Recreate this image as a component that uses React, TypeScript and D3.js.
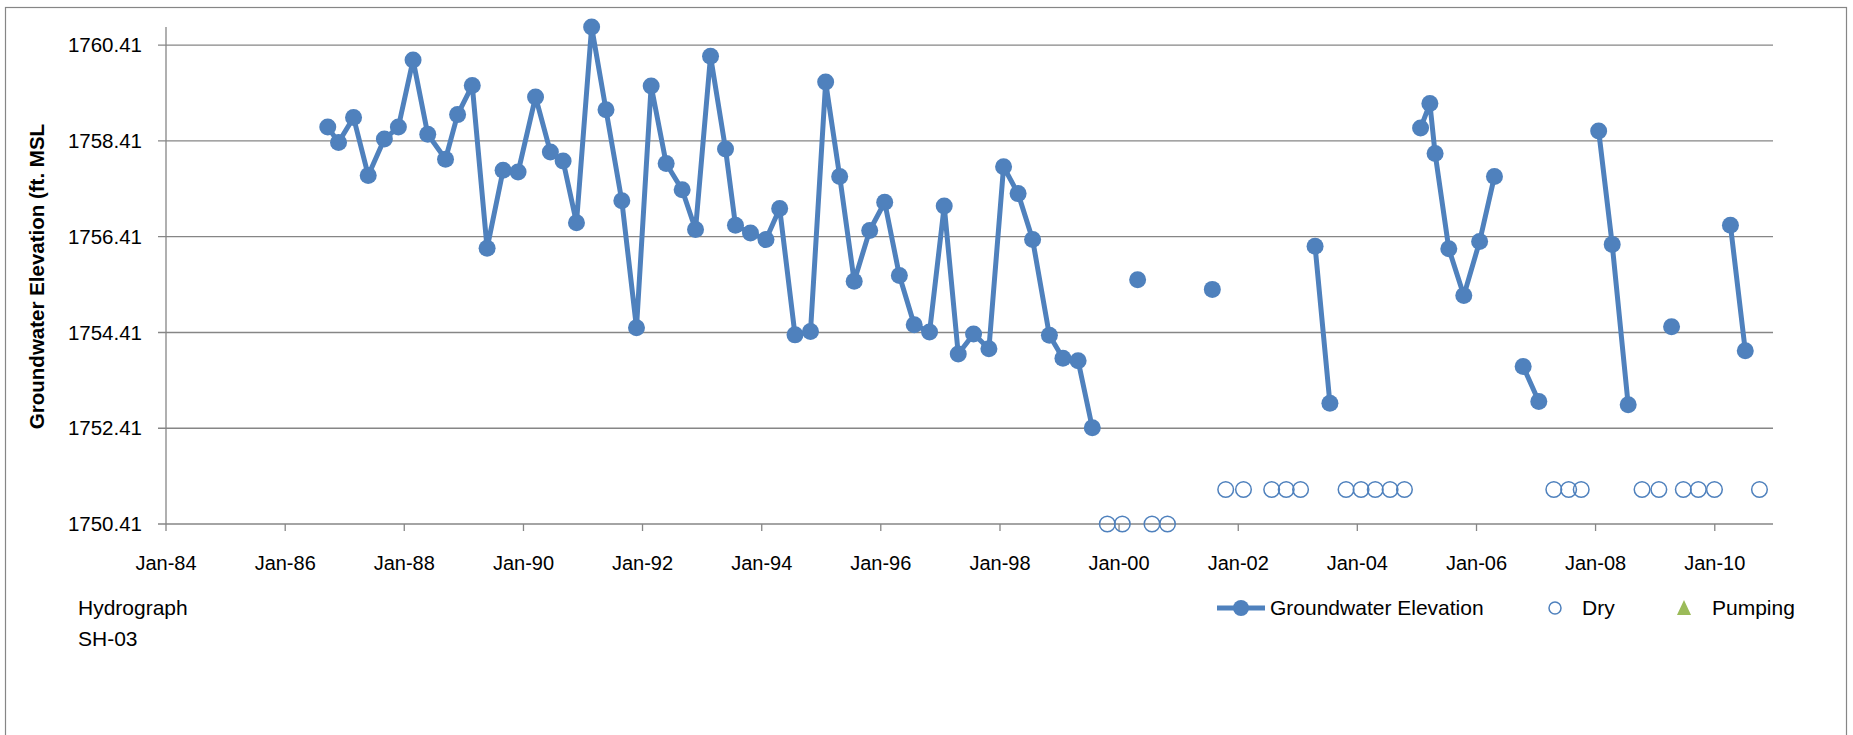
import * as d3 from 'd3';

const W = 1853;
const H = 735;

// groundwater readings, null = no reading (line break)
const gwDates = [
  '1986-09-19', '1986-11-24', '1987-02-24', '1987-05-25', '1987-09-01', '1987-11-26',
  '1988-02-24', '1988-05-24', '1988-09-10', '1988-11-23', '1989-02-21', '1989-05-23',
  '1989-08-29', '1989-11-29', '1990-03-16', '1990-06-15', '1990-09-01', '1990-11-22',
  '1991-02-23', '1991-05-22', '1991-08-27', '1991-11-25', '1992-02-23', '1992-05-25',
  '1992-08-31', '1992-11-21', '1993-02-21', '1993-05-24', '1993-07-24', '1993-10-24',
  '1994-01-27', '1994-04-21', '1994-07-24', '1994-10-27', '1995-01-28', '1995-04-24',
  '1995-07-22', '1995-10-25', '1996-01-25', '1996-04-24', '1996-07-24', '1996-10-26',
  '1997-01-24', '1997-04-20', '1997-07-23', '1997-10-25', '1998-01-23', '1998-04-22',
  '1998-07-20', '1998-10-31', '1999-01-22', '1999-04-25', '1999-07-21',
  '1999-10-21',
  '2000-04-24',
  '2000-10-24',
  '2001-07-26',
  '2002-02-02',
  '2003-04-17', '2003-07-17',
  '2003-10-24',
  '2005-01-23', '2005-03-21', '2005-04-22', '2005-07-15', '2005-10-15', '2006-01-20', '2006-04-21',
  '2006-07-15',
  '2006-10-14', '2007-01-18',
  '2007-04-20',
  '2008-01-20', '2008-04-12', '2008-07-19',
  '2008-10-12',
  '2009-04-11',
  '2009-06-22',
  '2010-04-07', '2010-07-07',
];
const gwValues = [
  1758.70, 1758.38, 1758.90, 1757.69, 1758.45, 1758.70,
  1760.10, 1758.55, 1758.03, 1758.96, 1759.57, 1756.17,
  1757.80, 1757.76, 1759.33, 1758.18, 1757.99, 1756.70,
  1760.79, 1759.06, 1757.16, 1754.51, 1759.56, 1757.94,
  1757.39, 1756.56, 1760.18, 1758.24, 1756.65, 1756.49,
  1756.35, 1757.00, 1754.36, 1754.43, 1759.64, 1757.67,
  1755.48, 1756.54, 1757.13, 1755.60, 1754.57, 1754.42,
  1757.05, 1753.96, 1754.38, 1754.07, 1757.87, 1757.31,
  1756.35, 1754.35, 1753.87, 1753.82, 1752.42,
  null,
  1755.51,
  null,
  1755.31,
  null,
  1756.21, 1752.93,
  null,
  1758.68, 1759.19, 1758.15, 1756.16, 1755.18, 1756.31, 1757.67,
  null,
  1753.70, 1752.97,
  null,
  1758.62, 1756.25, 1752.90,
  null,
  1754.53,
  null,
  1756.65, 1754.03,
];

// dry well readings
const dryDates = [
  '1999-10-21', '2000-01-21', '2000-07-21', '2000-10-24',
  '2001-10-16', '2002-02-02', '2002-07-25', '2002-10-22', '2003-01-18',
  '2003-10-24', '2004-01-24', '2004-04-20', '2004-07-20', '2004-10-16',
  '2007-04-20', '2007-07-20', '2007-10-05',
  '2008-10-12', '2009-01-23', '2009-06-22', '2009-09-22', '2009-12-30',
  '2010-10-02',
];
const dryValues = [
  1750.41, 1750.41, 1750.41, 1750.41,
  1751.13, 1751.13, 1751.13, 1751.13, 1751.13,
  1751.13, 1751.13, 1751.13, 1751.13, 1751.13,
  1751.13, 1751.13, 1751.13,
  1751.13, 1751.13, 1751.13, 1751.13, 1751.13,
  1751.13,
];

const yTicks = [1750.41, 1752.41, 1754.41, 1756.41, 1758.41, 1760.41];

const BLUE = '#4F81BD';
const GREEN = '#9BBB59';
const GRID = '#868686';
const FONT = '"Liberation Sans", Arial, sans-serif';

export default function App() {
  const parse = d3.timeParse('%Y-%m-%d');
  const x = d3.scaleTime()
    .domain([new Date(1984, 0, 1), new Date(2010, 11, 24)])
    .range([166, 1773]);
  const y = d3.scaleLinear().domain([1750.41, 1760.79]).range([524, 27]);

  const gw = gwDates.map((d, i) => ({ date: parse(d)!, v: gwValues[i] }));
  const dry = dryDates.map((d, i) => ({ date: parse(d)!, v: dryValues[i] }));

  const line = d3.line<{ date: Date; v: number | null }>()
    .defined(d => d.v != null)
    .x(d => x(d.date))
    .y(d => y(d.v as number));

  const xTicks = x.ticks(d3.timeYear.every(2)!);
  const fmt = d3.timeFormat('%b-%y');
  const [x0, x1] = x.range();
  const yBottom = y(1750.41);

  return (
    <svg width={W} height={H} style={{ position: 'absolute', left: 0, top: 0, background: '#fff' }} fontFamily={FONT}>
      <rect x={5.5} y={7.5} width={1841} height={740} fill="#fff" stroke={GRID} strokeWidth={1.2} />

      {/* gridlines + y ticks */}
      {yTicks.map(t => (
        <g key={t}>
          <line x1={x0 - 8} x2={x1} y1={y(t)} y2={y(t)} stroke={GRID} strokeWidth={1.3} />
          <text x={142} y={y(t)} dy="0.35em" textAnchor="end" fontSize={20.5} fill="#000">{t.toFixed(2)}</text>
        </g>
      ))}
      <line x1={x0} x2={x0} y1={27} y2={yBottom} stroke={GRID} strokeWidth={1.3} />

      {/* x ticks */}
      {xTicks.map(t => (
        <g key={+t}>
          <line x1={x(t)} x2={x(t)} y1={yBottom} y2={yBottom + 7} stroke={GRID} strokeWidth={1.3} />
          <text x={x(t)} y={570} textAnchor="middle" fontSize={20} fill="#000">{fmt(t)}</text>
        </g>
      ))}

      <text transform="translate(43.5,276.5) rotate(-90)" textAnchor="middle" fontSize={20.5} fontWeight="bold" fill="#000">
        Groundwater Elevation (ft. MSL
      </text>

      {/* series */}
      <path d={line(gw) ?? ''} fill="none" stroke={BLUE} strokeWidth={5} strokeLinejoin="round" />
      {gw.filter(d => d.v != null).map((d, i) => (
        <circle key={i} cx={x(d.date)} cy={y(d.v as number)} r={8.5} fill={BLUE} />
      ))}
      {dry.map((d, i) => (
        <circle key={i} cx={x(d.date)} cy={y(d.v)} r={7.8} fill="none" stroke={BLUE} strokeWidth={1.5} />
      ))}

      {/* footer */}
      <text x={78} y={615} fontSize={21} fill="#000">Hydrograph</text>
      <text x={78} y={646} fontSize={21} fill="#000">SH-03</text>

      {/* legend */}
      <line x1={1217} x2={1265} y1={608} y2={608} stroke={BLUE} strokeWidth={5} />
      <circle cx={1241} cy={608} r={8} fill={BLUE} />
      <text x={1270} y={615} fontSize={21} fill="#000">Groundwater Elevation</text>
      <circle cx={1555} cy={608} r={6} fill="none" stroke={BLUE} strokeWidth={1.5} />
      <text x={1582} y={615} fontSize={21} fill="#000">Dry</text>
      <path d="M1684,600 L1691,615 L1677,615 Z" fill={GREEN} />
      <text x={1712} y={615} fontSize={21} fill="#000">Pumping</text>
    </svg>
  );
}
